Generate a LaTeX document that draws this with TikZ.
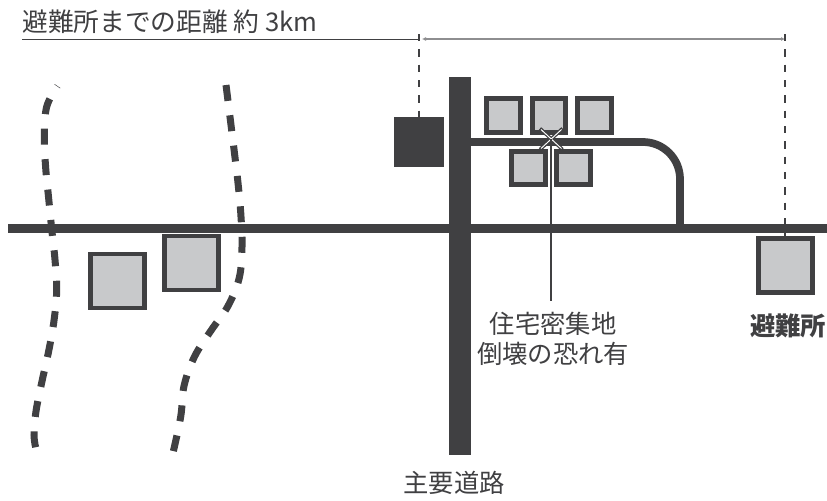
\documentclass[tikz,border=0pt]{standalone}
\usepackage{fontspec}
\setmainfont{Noto Sans CJK JP}
\usetikzlibrary{arrows.meta}
\definecolor{dk}{HTML}{404042}
\definecolor{gr}{HTML}{C8C9CB}
\definecolor{ml}{HTML}{8E8E90}
\tikzset{x=0.75pt,y=-0.75pt,
house/.style={draw=dk,fill=gr,line width=3.75pt,minimum size=25.3pt,inner sep=0,outer sep=0,anchor=center},
bighouse/.style={house,line width=3.5pt,minimum size=40.5pt},
lbl/.style={text=dk,font=\fontsize{19}{22.5}\selectfont,inner sep=0,align=center},
dashline/.style={dk,line width=1pt,dash pattern=on 5.5pt off 6pt},
path1/.style={dk,line width=5.25pt}}
\begin{document}
\begin{tikzpicture}
\useasboundingbox (0,0) rectangle (827,500);
\fill[white] (0,0) rectangle (827,500);
\coordinate (tl) at (22,39);
\coordinate (dl) at (419,34);
\coordinate (dm) at (419,39);
\coordinate (dr) at (785,34);
\coordinate (dr2) at (785,39);
\coordinate (al) at (422,39);
\draw[dk,line width=.55pt] (tl)--(dm);
\draw[ml,line width=1.3pt,{Latex[length=3pt,width=3pt]}-{Latex[length=3pt,width=3pt]}] (al)--(dr2);
\draw[path1,dash pattern=on 12pt off 10.9pt,dash phase=11.65pt] plot[smooth,tension=.6] coordinates {(57.5,86) (46.7,106.7) (44.3,137) (45.7,168) (48.7,198.7) (51.7,229) (55,259.7) (56.7,290) (54,320.7) (48.7,351) (42,381.3) (36,411.3) (34,435) (36,449)};
\draw[path1,dash pattern=on 12pt off 10.9pt] plot[smooth,tension=.6] coordinates {(226,85) (231,125) (234.7,155) (238.3,185.7) (241,216.7) (242,247) (239.3,277.7) (228,306) (210.7,331) (194.3,357) (184,386) (180.7,416.7) (172.5,455)};
\node[fill=dk,minimum size=37.5pt,inner sep=0,outer sep=0] (shelterA) at (419,142) {};
\draw[dashline] (dl)--(shelterA.north);
\node[bighouse] (h8) at (785.7,265.5) {};
\draw[dashline] (dr)--(785,241);
\fill[dk] (8,224) rectangle (827,233);
\fill[dk] (449,77) rectangle (471,455);
\draw[dk,line width=5.8pt,rounded corners=27.75pt] (471,142)--(680,142)--(680,228);
\node[house] (h1) at (503.3,115.3) {};
\node[house] (h2) at (549,115.3) {};
\node[house] (h3) at (594.7,115.3) {};
\node[house] (h4) at (528.7,168) {};
\node[house] (h5) at (573.7,168) {};
\node[bighouse] (h6) at (117.5,281) {};
\node[bighouse] (h7) at (191.5,263) {};
\coordinate (x) at (551,139.3);
\draw[dk,line width=2.6pt] (540,128.5)--(562.5,149.5) (562.5,128.5)--(540,149.5);
\draw[white,line width=.7pt] (541,129.5)--(561.5,148.5) (561.5,129.5)--(541,148.5);
\node[lbl,anchor=west,font=\fontsize{19.3}{22.5}\selectfont] (t1) at (22,22) {避難所までの距離 約 3km};
\node[lbl] (t2) at (553,339) {住宅密集地\\倒壊の恐れ有};
\node[lbl,font=\fontsize{19}{22}\selectfont\bfseries] (t3) at (788,326) {避難所};
\node[lbl] (t4) at (454,483) {主要道路};
\draw[dk,line width=1.9pt] (x)--(551,301);
\end{tikzpicture}
\end{document}
